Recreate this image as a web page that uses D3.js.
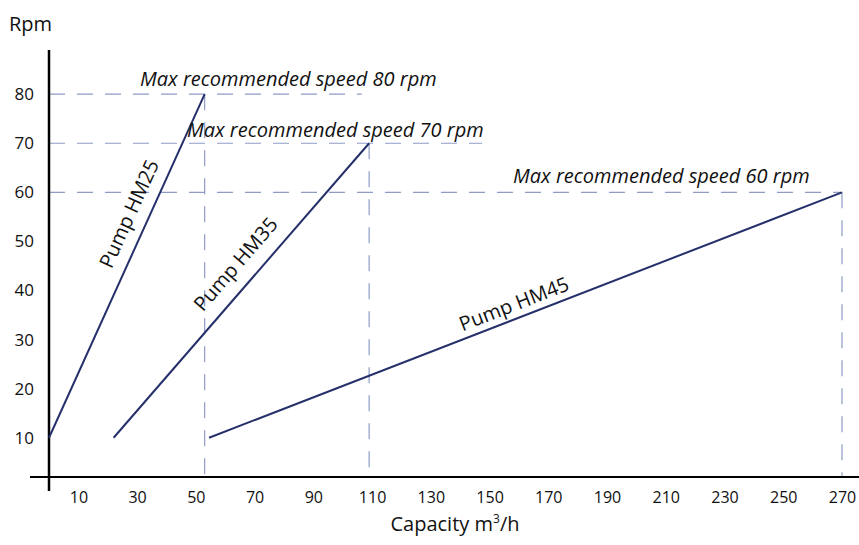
<!DOCTYPE html>
<html>
<head>
<meta charset="utf-8">
<script src="https://cdn.jsdelivr.net/npm/d3@7"></script>
<style>
  html, body { margin: 0; padding: 0; background: #fff; }
  svg { display: block; }
  text { font-family: "Open Sans", "Noto Sans", sans-serif; fill: #111; }
</style>
</head>
<body>
<svg id="chart" width="859" height="545"></svg>
<script>
// ---- data ----
const capacityTicks = [10, 30, 50, 70, 90, 110, 130, 150, 170, 190, 210, 230, 250, 270];
const rpmTicks = [10, 20, 30, 40, 50, 60, 70, 80];
const pumpNames = ["Pump HM25", "Pump HM35", "Pump HM45"];
const startCapacity = [0, 22, 54.5];
const startRpm = [10, 10, 10];
const endCapacity = [53, 109, 270];
const maxRpm = [80, 70, 60];
const maxLabels = ["Max recommended speed 80 rpm", "Max recommended speed 70 rpm", "Max recommended speed 60 rpm"];
const guideEndCapacity = [106.5, 147.5, 270];

// ---- layout ----
const svg = d3.select("#chart");
const x = d3.scaleLinear().domain([0, 270]).range([49, 842]);
const y = d3.scaleLinear().domain([2, 89]).range([477, 50]);

const navy = "#25306b";
const guide = "#8f9cc6";

// guides
const g = svg.append("g");
maxRpm.forEach((r, i) => {
  g.append("line")
    .attr("x1", x(0)).attr("x2", x(guideEndCapacity[i]))
    .attr("y1", y(r)).attr("y2", y(r))
    .attr("stroke", guide).attr("stroke-width", 1.2)
    .attr("stroke-dasharray", "16,12");
  g.append("line")
    .attr("x1", x(endCapacity[i])).attr("x2", x(endCapacity[i]))
    .attr("y1", y(r)).attr("y2", y(2))
    .attr("stroke", guide).attr("stroke-width", 1.2)
    .attr("stroke-dasharray", "16,12");
});

// axes
svg.append("line").attr("x1", 30).attr("x2", 859).attr("y1", y(2)).attr("y2", y(2))
  .attr("stroke", "#000").attr("stroke-width", 2);
svg.append("line").attr("x1", x(0)).attr("x2", x(0)).attr("y1", y(89)).attr("y2", 491)
  .attr("stroke", "#000").attr("stroke-width", 2.5);

const yAxis = d3.axisLeft(y).tickValues(rpmTicks).tickSize(0).tickPadding(15);
svg.append("g").attr("transform", `translate(${x(0)},0)`).call(yAxis)
  .call(s => s.select(".domain").remove())
  .selectAll("text").style("font-size", "17px").attr("fill", "#111")
  .style("font-family", '"Open Sans", sans-serif');

const xAxis = d3.axisBottom(x).tickValues(capacityTicks).tickSize(0).tickPadding(15);
svg.append("g").attr("transform", `translate(0,${y(2)})`).call(xAxis)
  .call(s => s.select(".domain").remove())
  .selectAll("text").style("font-size", "16px").attr("fill", "#111")
  .style("font-family", '"Open Sans", sans-serif');

// axis titles
svg.append("text").attr("x", 9).attr("y", 31).style("font-size", "20px").text("Rpm");
const xt = svg.append("text").attr("x", 455).attr("y", 531).attr("text-anchor", "middle").style("font-size", "20px");
xt.append("tspan").text("Capacity m");
xt.append("tspan").attr("dy", -8).style("font-size", "12px").text("3");
xt.append("tspan").attr("dy", 8).text("/h");

// pump lines
pumpNames.forEach((name, i) => {
  svg.append("line")
    .attr("x1", x(startCapacity[i])).attr("y1", y(startRpm[i]))
    .attr("x2", x(endCapacity[i])).attr("y2", y(maxRpm[i]))
    .attr("stroke", navy).attr("stroke-width", 2);
});

// pump labels along lines
const labelRpm = [54, 42.5, null];
const labelFrac = [null, null, 0.49];
const labelOffset = [20, 22, 15];
pumpNames.forEach((name, i) => {
  const x1 = x(startCapacity[i]), y1 = y(startRpm[i]);
  const x2 = x(endCapacity[i]), y2 = y(maxRpm[i]);
  let t;
  if (labelRpm[i] !== null) t = (y(labelRpm[i]) - y1) / (y2 - y1);
  else t = labelFrac[i];
  const px = x1 + t * (x2 - x1), py = y1 + t * (y2 - y1);
  const ang = Math.atan2(y2 - y1, x2 - x1);
  const nx = Math.sin(ang), ny = -Math.cos(ang);
  const cx = px + nx * labelOffset[i], cy = py + ny * labelOffset[i];
  svg.append("text")
    .attr("transform", `translate(${cx},${cy}) rotate(${ang * 180 / Math.PI})`)
    .attr("text-anchor", "middle").attr("dominant-baseline", "central")
    .style("font-size", "20px").text(name);
});

// max speed annotations
const annStart = [31, 47, 158];
const annLift = [8, 6, 9];
maxLabels.forEach((lab, i) => {
  svg.append("text")
    .attr("x", x(annStart[i])).attr("y", y(maxRpm[i]) - annLift[i])
    .style("font-size", "20px").style("font-style", "italic").text(lab);
});
</script>
</body>
</html>
